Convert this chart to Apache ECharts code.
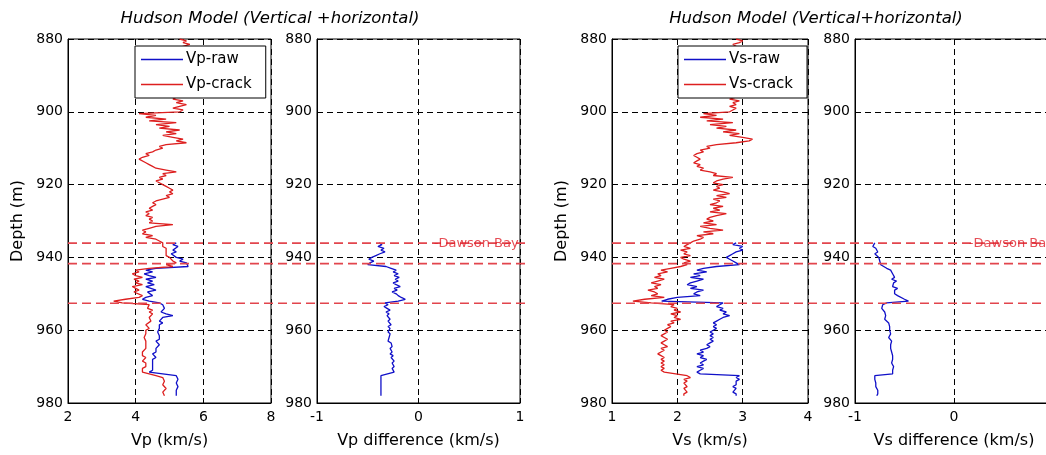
<!DOCTYPE html>
<html>
<head>
<meta charset="utf-8">
<script src="https://cdn.jsdelivr.net/npm/echarts@6/dist/echarts.min.js"></script>
<style>html,body{margin:0;padding:0;background:#fff}#c{width:1046px;height:455px}</style>
</head>
<body>
<div id="c"></div>
<script>
// ---------- DATA ----------
const depthFull = [
880,880.5,881,881.5,882,882.5,883,883.5,884,884.5,
885,885.5,886,886.5,887,887.5,888,888.5,889,889.5,
890,890.5,891,891.5,892,892.5,893,893.5,894,894.5,
895,895.5,896,896.5,897,897.5,898,898.5,899,899.5,
900,900.5,901,901.5,902,902.5,903,903.5,904,904.5,
905,905.5,906,906.5,907,907.5,908,908.5,909,909.5,
910,910.5,911,911.5,912,912.5,913,913.5,914,914.5,
915,915.5,916,916.5,917,917.5,918,918.5,919,919.5,
920,920.5,921,921.5,922,922.5,923,923.5,924,924.5,
925,925.5,926,926.5,927,927.5,928,928.5,929,929.5,
930,930.5,931,931.5,932,932.5,933,933.5,934,934.5,
935,935.5,936,936.5,937,937.5,938,938.5,939,939.5,
940,940.5,941,941.5,942,942.5,943,943.5,944,944.5,
945,945.5,946,946.5,947,947.5,948,948.5,949,949.5,
950,950.5,951,951.5,952,952.5,953,953.5,954,954.5,
955,955.5,956,956.5,957,957.5,958,958.5,959,959.5,
960,960.5,961,961.5,962,962.5,963,963.5,964,964.5,
965,965.5,966,966.5,967,967.5,968,968.5,969,969.5,
970,970.5,971,971.5,972,972.5,973,973.5,974,974.5,
975,975.5,976,976.5,977,977.5,978];

const depthLower = [
936,936.5,937,937.5,938,938.5,939,939.5,
940,940.5,941,941.5,942,942.5,943,943.5,944,944.5,
945,945.5,946,946.5,947,947.5,948,948.5,949,949.5,
950,950.5,951,951.5,952,952.5,953,953.5,954,954.5,
955,955.5,956,956.5,957,957.5,958,958.5,959,959.5,
960,960.5,961,961.5,962,962.5,963,963.5,964,964.5,
965,965.5,966,966.5,967,967.5,968,968.5,969,969.5,
970,970.5,971,971.5,972,972.5,973,973.5,974,974.5,
975,975.5,976,976.5,977,977.5,978];

const vpCrack = [
5.3,5.5,5.4,5.6,5.4,5.3,5.3,5.4,5.2,5.3,
5.5,5.4,5.3,5.2,5.4,5.3,5.5,5.4,5.3,5.2,
5.3,5.4,5.3,5.2,5.4,5.5,5.3,5.4,5.2,5.3,
5.4,5.3,5.3,5.1,5.4,5.2,5.5,5.3,5.1,5.4,
5.3,4.1,4.6,4.3,4.9,4.4,5.2,4.6,5.0,4.7,
5.3,4.9,5.2,4.8,5.1,5.4,5.2,5.5,4.9,4.7,
4.8,4.6,4.5,4.3,4.4,4.2,4.1,4.15,4.3,4.4,
4.5,4.6,4.9,5.2,4.8,4.9,4.7,4.8,4.6,4.7,
4.8,4.9,5.0,5.1,5.0,5.1,4.9,5.0,4.8,4.6,
4.5,4.6,4.5,4.4,4.5,4.3,4.4,4.3,4.5,4.4,
4.5,4.4,5.1,4.6,4.4,4.2,4.3,4.2,4.5,4.3,
4.6,4.7,4.8,4.75,4.8,4.9,4.85,4.9,4.95,4.9,
5.0,4.95,5.1,5.2,4.9,5.1,4.4,4.0,4.1,3.9,
4.0,4.2,3.95,4.1,4.0,4.2,3.9,4.0,4.1,3.95,
4.0,4.2,4.1,3.7,3.35,3.6,4.4,4.45,4.35,4.5,
4.4,4.5,4.45,4.4,4.35,4.45,4.4,4.3,4.35,4.4,
4.3,4.35,4.3,4.35,4.25,4.3,4.3,4.25,4.3,4.35,
4.3,4.25,4.2,4.25,4.2,4.3,4.25,4.2,4.3,4.25,
4.3,4.2,4.25,4.2,4.15,4.6,4.8,4.8,4.85,4.8,
4.8,4.85,4.9,4.85,4.8,4.8,4.85];

const vpRaw = [
5.2,5.1,5.25,5.3,5.1,5.2,5.05,5.1,
5.2,5.4,5.3,5.5,5.45,5.55,4.6,4.3,4.5,4.25,
4.4,4.6,4.3,4.5,4.35,4.55,4.3,4.45,4.6,4.35,
4.4,4.5,4.3,4.2,4.4,4.7,4.8,4.75,4.85,4.8,
4.75,4.9,5.1,4.8,4.75,4.7,4.8,4.7,4.75,4.7,
4.7,4.65,4.7,4.7,4.65,4.7,4.6,4.65,4.7,4.65,
4.6,4.55,4.6,4.5,4.55,4.6,4.5,4.45,4.5,4.55,
4.5,4.45,4.5,4.4,4.35,5.2,5.2,5.25,5.2,5.2,
5.2,5.25,5.2,5.2,5.25,5.2,5.2];

const vpDiff = [
-0.39,-0.36,-0.4,-0.34,-0.37,-0.33,-0.38,-0.42,
-0.46,-0.49,-0.44,-0.48,-0.5,-0.32,-0.27,-0.22,-0.25,-0.2,
-0.24,-0.19,-0.23,-0.2,-0.25,-0.22,-0.18,-0.24,-0.21,-0.26,
-0.22,-0.2,-0.17,-0.13,-0.2,-0.33,-0.3,-0.34,-0.31,-0.28,
-0.32,-0.29,-0.31,-0.3,-0.28,-0.3,-0.29,-0.27,-0.3,-0.28,
-0.29,-0.3,-0.28,-0.27,-0.29,-0.28,-0.3,-0.27,-0.28,-0.26,
-0.28,-0.27,-0.26,-0.28,-0.25,-0.27,-0.26,-0.24,-0.26,-0.25,
-0.24,-0.26,-0.25,-0.24,-0.25,-0.37,-0.37,-0.37,-0.37,-0.37,
-0.37,-0.37,-0.37,-0.37,-0.37,-0.37,-0.37];

const vsCrack = [
2.9,3.0,2.95,2.85,2.9,2.95,2.9,2.85,2.9,2.95,
2.85,2.9,2.8,2.9,2.95,2.85,2.9,2.8,2.85,2.9,
2.85,2.9,2.8,2.85,2.9,2.8,2.85,2.9,2.95,2.85,
2.9,2.85,2.9,2.8,2.95,2.85,2.9,2.8,2.9,2.85,
2.8,2.4,2.6,2.35,2.7,2.45,2.85,2.5,2.75,2.6,
2.9,2.7,2.95,2.8,3.0,3.15,3.1,2.9,2.6,2.45,
2.5,2.35,2.4,2.3,2.25,2.3,2.35,2.3,2.25,2.35,
2.3,2.4,2.35,2.5,2.6,2.55,2.85,2.7,2.6,2.55,
2.7,2.6,2.65,2.55,2.7,2.8,2.6,2.75,2.55,2.65,
2.6,2.5,2.7,2.55,2.65,2.5,2.75,2.6,2.5,2.45,
2.55,2.4,2.6,2.35,2.5,2.7,2.4,2.55,2.3,2.4,
2.35,2.25,2.2,2.15,2.1,2.2,2.05,2.15,2.1,2.2,
2.05,2.1,2.2,2.1,2.15,2.05,1.9,1.75,1.85,1.7,
1.75,1.65,1.8,1.7,1.6,1.75,1.65,1.7,1.55,1.65,
1.7,1.6,1.8,1.5,1.32,1.6,1.95,1.9,2.0,1.95,
2.05,1.9,2.0,1.95,2.05,1.9,1.95,1.85,1.9,1.85,
1.8,1.85,1.8,1.75,1.8,1.85,1.8,1.75,1.8,1.85,
1.75,1.8,1.75,1.7,1.75,1.8,1.75,1.8,1.75,1.8,
1.75,1.8,1.75,1.8,1.78,2.15,2.2,2.1,2.15,2.1,
2.1,2.15,2.1,2.1,2.15,2.1,2.1];

const vsRaw = [
2.9,2.85,3.0,2.95,3.0,2.9,2.85,2.8,
2.75,2.8,2.85,2.9,2.95,2.6,2.4,2.3,2.45,2.25,
2.35,2.2,2.4,2.3,2.2,2.15,2.3,2.2,2.4,2.3,
2.25,2.35,2.0,1.85,1.76,2.7,2.65,2.6,2.7,2.65,
2.75,2.7,2.8,2.7,2.65,2.6,2.55,2.6,2.55,2.6,
2.55,2.5,2.55,2.5,2.55,2.5,2.55,2.5,2.45,2.5,
2.45,2.35,2.4,2.3,2.4,2.35,2.45,2.4,2.35,2.4,
2.3,2.4,2.35,2.3,2.35,2.95,2.9,2.95,2.9,2.9,
2.9,2.85,2.9,2.9,2.85,2.9,2.9];

const vsDiff = [
-0.8,-0.78,-0.82,-0.79,-0.81,-0.77,-0.8,-0.78,
-0.76,-0.77,-0.75,-0.76,-0.74,-0.72,-0.68,-0.64,-0.66,-0.62,
-0.64,-0.6,-0.63,-0.58,-0.61,-0.59,-0.62,-0.57,-0.6,-0.58,
-0.6,-0.57,-0.55,-0.5,-0.46,-0.68,-0.72,-0.7,-0.73,-0.71,
-0.7,-0.72,-0.69,-0.71,-0.7,-0.68,-0.66,-0.67,-0.65,-0.66,
-0.65,-0.66,-0.64,-0.65,-0.66,-0.64,-0.63,-0.65,-0.64,-0.63,
-0.64,-0.62,-0.63,-0.61,-0.62,-0.63,-0.62,-0.61,-0.63,-0.62,
-0.61,-0.63,-0.62,-0.61,-0.62,-0.8,-0.79,-0.8,-0.78,-0.79,
-0.78,-0.79,-0.78,-0.77,-0.78,-0.77,-0.78];

const horizonDepths = [936.1, 941.7, 952.6];
const horizonLabel = '-Dawson Bay';
const horizonLabelX = 0.15;

const titles = ['Hudson Model (Vertical +horizontal)', 'Hudson Model (Vertical+horizontal)'];
const xNames = ['Vp (km/s)', 'Vp difference (km/s)', 'Vs (km/s)', 'Vs difference (km/s)'];
const yName = 'Depth (m)';
const xRanges = [[2, 8, 2], [-1, 1, 1], [1, 4, 1], [-1, 1, 1]];
const depthRange = [880, 980, 20];

// ---------- CHART ----------
const FONT = 'DejaVu Sans';
const RED = '#dd1f1f';
const BLUE = '#1010c8';
const HRED = '#e2454d';

function zip(vals, deps) { return vals.map((v, i) => [v, deps[i]]); }

const panelGrids = [
  {left: 68, top: 39, width: 203, height: 364},
  {left: 317, top: 39, width: 203, height: 364},
  {left: 612, top: 39, width: 196, height: 364},
  {left: 855, top: 39, width: 198, height: 364}
];
const grids = panelGrids.map(g => Object.assign({show: true, borderColor: '#000', borderWidth: 1, backgroundColor: 'transparent', containLabel: false, outerBoundsMode: 'none'}, g));
grids.push({left: 68, top: 39, width: 457, height: 364, show: false, containLabel: false, outerBoundsMode: 'none'});
grids.push({left: 612, top: 39, width: 440, height: 364, show: false, containLabel: false, outerBoundsMode: 'none'});

const dashed = {show: true, lineStyle: {color: '#000', type: [6, 4], width: 1}};

const xAxes = xRanges.map((r, i) => ({
  type: 'value', gridIndex: i, min: r[0], max: r[1], interval: r[2],
  position: 'bottom',
  axisLine: {show: true, onZero: false, lineStyle: {color: '#000', width: 1}},
  axisTick: {show: true, inside: true, length: 5, lineStyle: {color: '#000'}},
  axisLabel: {color: '#000', fontFamily: FONT, fontSize: 14, margin: 7},
  splitLine: dashed,
  name: xNames[i], nameLocation: 'middle', nameGap: 30,
  nameTextStyle: {color: '#000', fontFamily: FONT, fontSize: 16}
}));
xAxes.push({type: 'value', gridIndex: 4, min: 0, max: 1, show: false});
xAxes.push({type: 'value', gridIndex: 5, min: 0, max: 1, show: false});

const yAxes = [0, 1, 2, 3].map(i => ({
  type: 'value', gridIndex: i, inverse: true,
  min: depthRange[0], max: depthRange[1], interval: depthRange[2],
  axisLine: {show: true, onZero: false, lineStyle: {color: '#000', width: 1}},
  axisTick: {show: true, inside: true, length: 5, lineStyle: {color: '#000'}},
  axisLabel: {color: '#000', fontFamily: FONT, fontSize: 14, margin: 5},
  splitLine: dashed,
  name: (i === 0 || i === 2) ? yName : '',
  nameLocation: 'middle', nameGap: 42, nameRotate: 90,
  nameTextStyle: {color: '#000', fontFamily: FONT, fontSize: 16}
}));
yAxes.push({type: 'value', gridIndex: 4, inverse: true, min: depthRange[0], max: depthRange[1], show: false});
yAxes.push({type: 'value', gridIndex: 5, inverse: true, min: depthRange[0], max: depthRange[1], show: false});

function curve(name, vals, deps, axis, color, z) {
  return {
    name: name, type: 'line', xAxisIndex: axis, yAxisIndex: axis,
    data: zip(vals, deps), showSymbol: false, symbol: 'none',
    lineStyle: {color: color, width: 1.3}, itemStyle: {color: color},
    z: z, silent: true
  };
}

const series = [
  curve('Vp-raw', vpRaw, depthLower, 0, BLUE, 2),
  curve('Vp-crack', vpCrack, depthFull, 0, RED, 3),
  curve('Vp difference', vpDiff, depthLower, 1, BLUE, 2),
  curve('Vs-raw', vsRaw, depthLower, 2, BLUE, 2),
  curve('Vs-crack', vsCrack, depthFull, 2, RED, 3),
  curve('Vs difference', vsDiff, depthLower, 3, BLUE, 2)
];

[4, 5].forEach(g => {
  horizonDepths.forEach(d => {
    series.push({
      type: 'line', xAxisIndex: g, yAxisIndex: g, data: [[0, d], [1, d]],
      showSymbol: false, symbol: 'none', silent: true,
      lineStyle: {color: HRED, width: 1.7, type: [9, 5]}, z: 5
    });
  });
});

[1, 3].forEach(a => {
  series.push({
    type: 'scatter', xAxisIndex: a, yAxisIndex: a,
    data: [[horizonLabelX, horizonDepths[0]]], symbolSize: 0, silent: true, z: 6,
    label: {show: true, position: 'right', distance: 0, formatter: horizonLabel,
      color: '#e0202a', fontFamily: FONT, fontSize: 13}
  });
});

function legendCfg(names, left) {
  return {
    data: names, left: left, top: 46, orient: 'vertical',
    icon: 'rect', itemWidth: 42, itemHeight: 1.5, itemGap: 10,
    padding: [6, 14, 6, 6],
    backgroundColor: '#fff', borderColor: '#000', borderWidth: 1,
    textStyle: {color: '#000', fontFamily: FONT, fontSize: 15, padding: [0, 0, 0, -2]},
    selectedMode: false
  };
}

const titleStyle = {fontFamily: FONT, fontStyle: 'italic', fontWeight: 'normal', fontSize: 16.5, color: '#000'};
const option = {
  animation: false,
  backgroundColor: '#fff',
  title: [
    {text: titles[0], left: 265, top: 5, textAlign: 'center', textStyle: titleStyle},
    {text: titles[1], left: 811, top: 5, textAlign: 'center', textStyle: titleStyle}
  ],
  legend: [legendCfg(['Vp-raw', 'Vp-crack'], 135), legendCfg(['Vs-raw', 'Vs-crack'], 678)],
  grid: grids,
  xAxis: xAxes,
  yAxis: yAxes,
  series: series
};

const chart = echarts.init(document.getElementById('c'), null, {renderer: 'canvas'});
chart.setOption(option);
</script>
</body>
</html>
